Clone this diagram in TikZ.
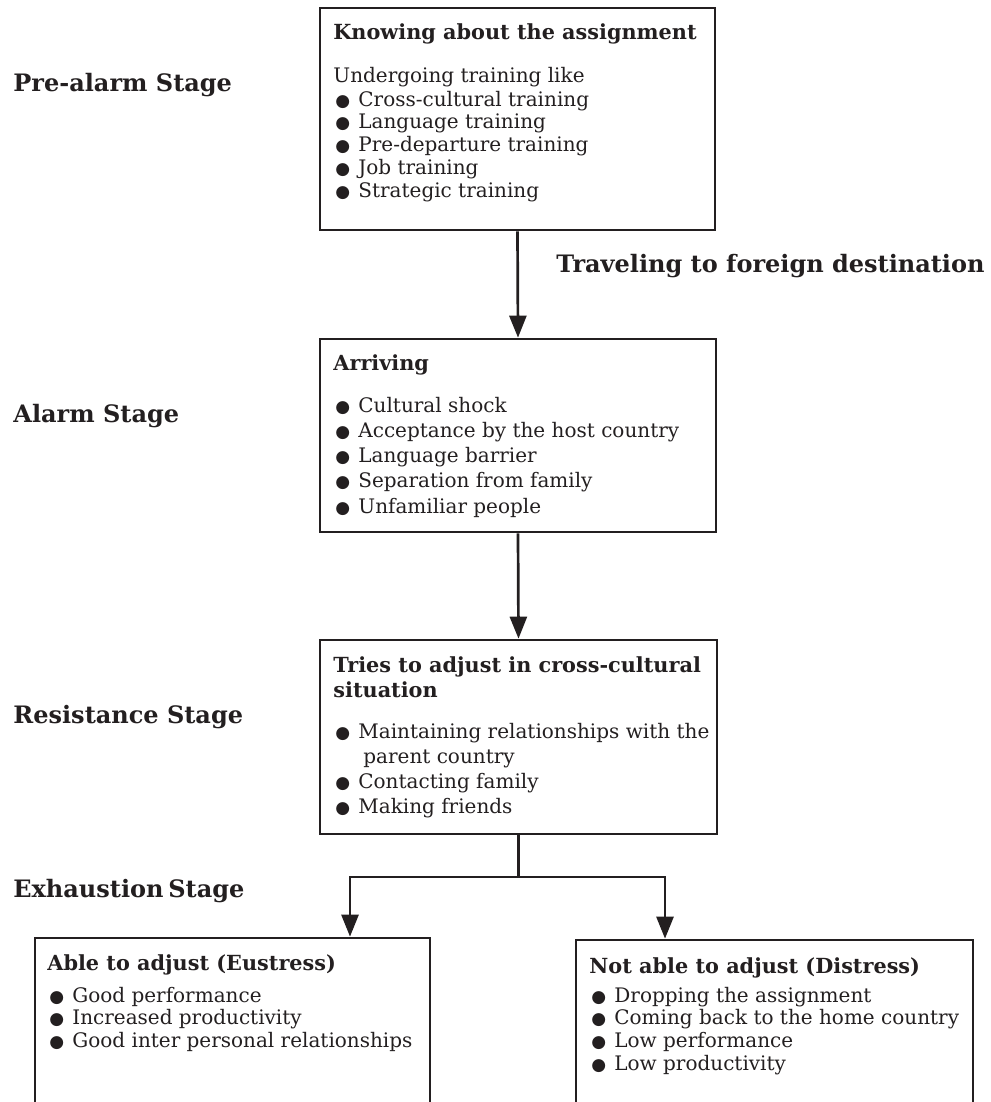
\documentclass[tikz,border=0pt]{standalone}
\usepackage{fontspec}
\setmainfont{DejaVu Serif}
\newfontfamily\bulfont{DejaVu Sans}
\usetikzlibrary{arrows.meta}

\definecolor{ink}{RGB}{35,31,32}
\newcommand{\bul}{\makebox[11.5pt][l]{\bulfont\fontsize{8.5}{8.5}\selectfont ●}}

\begin{document}
\begin{tikzpicture}[x=0.5pt,y=-0.5pt,
  box/.style={draw=ink, line width=1.35pt, inner sep=0pt},
  stage/.style={anchor=base west, inner sep=0pt, text=ink, font=\bfseries\fontsize{12}{14}\selectfont},
  head/.style={anchor=base west, inner sep=0pt, text=ink, font=\bfseries\fontsize{10.4}{12}\selectfont},
  item/.style={anchor=base west, inner sep=0pt, text=ink, font=\fontsize{10}{12}\selectfont},
  link/.style={draw=ink, line width=1.35pt},
  flow/.style={link, -{Triangle[length=11pt,width=8.5pt]}}]
\useasboundingbox (0,0) rectangle (990,1102);
\clip (0,0) rectangle (990,1102);

% Stages
\node[stage] (pre) at (13,92) {Pre-alarm Stage};
\node[stage] (alarm) at (13,422) {Alarm Stage};
\node[stage] (resist) at (13,723) {Resistance Stage};
\node[stage] (exhaust) at (13,897) {Exhaustion\hspace{0.2em}Stage};
\node[stage] (travel) at (556,272) {Traveling to foreign destination};

% Boxes
\node[box, minimum width=197.5pt, minimum height=111pt] (know) at (517.5,119) {};
\node[box, minimum width=198pt, minimum height=96.5pt] (arrive) at (518,435.5) {};
\node[box, minimum width=198.5pt, minimum height=97pt] (adjust) at (518.5,737) {};
\node[box, minimum width=197.5pt, minimum height=111pt] (eus) at (232.5,1049) {};
\node[box, minimum width=198.5pt, minimum height=110pt] (dis) at (774.5,1050) {};

% Knowing
\node[head] (knowhd) at (333,40) {Knowing about the assignment};
\node[item] (knowln) at (333,83) {Undergoing training like};
\foreach \t [count=\i] in {Cross-cultural training, Language training,
  Pre-departure training, Job training, Strategic training}
  \node[item] (know-\i) at (335,106+22.75*\i-22.75) {\bul\t};

% Arriving
\node[head] (arrivehd) at (333,370) {Arriving};
\foreach \t [count=\i] in {Cultural shock, Acceptance by the host country,
  Language barrier, Separation from family, Unfamiliar people}
  \node[item] (arrive-\i) at (335,412+25.25*\i-25.25) {\bul\t};

% Adjusting
\node[head] (adjusthd) at (333,672) {Tries to adjust in cross-cultural};
\node[head] (adjusthdb) at (333,697) {situation};
\node[item] (adjust-1) at (335,738) {\bul Maintaining relationships with the};
\node[item] (adjust-1b) at (363,763) {parent country};
\node[item] (adjust-2) at (335,788) {\bul Contacting family};
\node[item] (adjust-3) at (335,813) {\bul Making friends};

% Eustress
\node[head] (eushd) at (47,970) {Able to adjust (Eustress)};
\foreach \t [count=\i] in {Good performance, Increased productivity,
  Good inter personal relationships}
  \node[item] (eus-\i) at (49,1002+22.7*\i-22.7) {\bul\t};

% Distress
\node[head] (dishd) at (589,973) {Not able to adjust (Distress)};
\foreach \t [count=\i] in {Dropping the assignment, Coming back to the home country,
  Low performance, Low productivity}
  \node[item] (dis-\i) at (591,1002+22.7*\i-22.7) {\bul\t};

% Arrows
\coordinate (lft) at (350,877);
\coordinate (rgt) at (665,877);
\draw[flow] (know.south) -- (arrive.north);
\draw[flow] (arrive.south) -- (adjust.north);
\draw[flow] (adjust.south) |- (lft) -- (lft |- eus.north);
\draw[flow] (adjust.south |- lft) -| (rgt |- dis.north);
\end{tikzpicture}
\end{document}
